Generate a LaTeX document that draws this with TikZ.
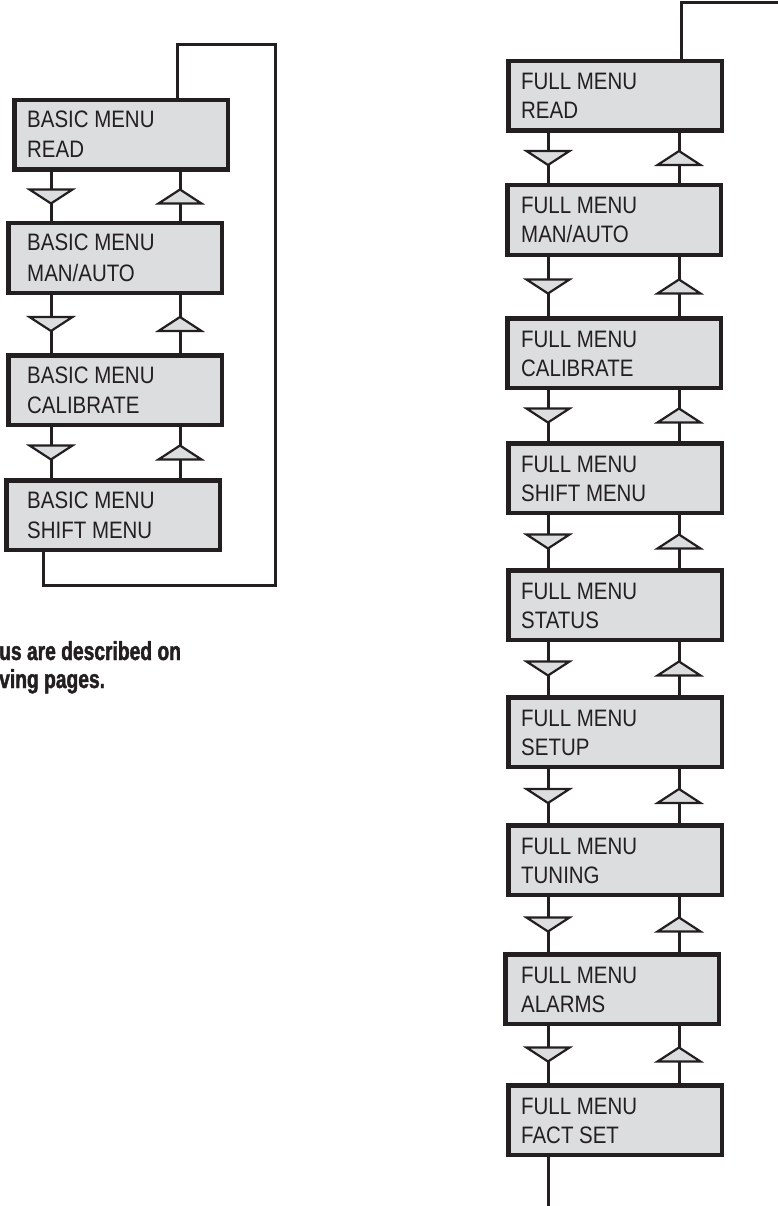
\documentclass[tikz,border=0pt]{standalone}
\usepackage{fontspec}
\setmainfont{Liberation Sans}
\newfontfamily\menufont{Liberation Sans}[FakeStretch=0.86]
\newfontfamily\notefont{Liberation Sans}[FakeStretch=0.74,FakeBold=1.6]
\usepackage{tikz}
\usetikzlibrary{positioning}
\usetikzlibrary{calc}
\definecolor{ink}{RGB}{35,31,32}
\definecolor{panel}{RGB}{220,221,223}

\begin{document}
\begin{tikzpicture}[x=1pt, y=-1pt,
menu/.style={rectangle,draw=ink,fill=panel,line width=4.5pt,minimum width=213.5pt,minimum height=69.5pt,anchor=north west,inner sep=0pt,outer sep=0pt},
txt/.style={anchor=base west,inner sep=0pt,text=ink,font=\menufont\fontsize{23.8pt}{29.5pt}\selectfont},
note/.style={anchor=base west,inner sep=0pt,text=ink,font=\notefont\bfseries\fontsize{26pt}{28pt}\selectfont},
link/.style={draw=ink,line width=3pt},
tri/.style={draw=ink,fill=panel,line width=2.2pt}]
\useasboundingbox (0,0) rectangle (778,1206);

% basic menu
\foreach \i/\xl/\ytop/\lbl in {1/12/98/READ, 2/6/221/{MAN/AUTO}, 3/6/353/CALIBRATE, 4/4/478/SHIFT MENU}{
  \node [menu](l\i) at ({\xl+2.25},{\ytop+2.25}) {};
  \node [txt](la\i) at (27,{\ytop+30}) {BASIC MENU};
  \node [txt](lb\i) at (27,{\ytop+60}) {\lbl};
}

% full menu
\foreach \i/\xl/\ytop/\lbl in {1/506/59/READ, 2/505/183/{MAN/AUTO}, 3/505/316/CALIBRATE, 4/506/441/SHIFT MENU,
  5/506/568/STATUS, 6/506/695/SETUP, 7/506/823/TUNING, 8/503/952/ALARMS, 9/506/1083/FACT SET}{
  \node [menu](r\i) at ({\xl+2.25},{\ytop+2.25}) {};
  \node [txt](ra\i) at (521,{\ytop+31}) {FULL MENU};
  \node [txt](rb\i) at (521,{\ytop+60}) {\lbl};
}

\coordinate (ldn) at (51,0);
\coordinate (lup) at (180,0);
\coordinate (rdn) at (548,0);
\coordinate (rup) at (679,0);

% up and down links
\foreach \i/\j in {1/2,2/3,3/4}{
  \draw [link] (ldn |- l\i.south) -- (ldn |- l\j.north);
  \draw [link] (lup |- l\i.south) -- (lup |- l\j.north);
  \coordinate (m) at ($(ldn |- l\i.south)!0.5!(ldn |- l\j.north)$);
  \draw [tri] (m) +(-21.5,-7) -- +(21.5,-7) -- +(0,7) -- cycle;
  \coordinate (m) at ($(lup |- l\i.south)!0.5!(lup |- l\j.north)$);
  \draw [tri] (m) +(-21.5,7) -- +(21.5,7) -- +(0,-7) -- cycle;
}
\foreach \i/\j in {1/2,2/3,3/4,4/5,5/6,6/7,7/8,8/9}{
  \draw [link] (rdn |- r\i.south) -- (rdn |- r\j.north);
  \draw [link] (rup |- r\i.south) -- (rup |- r\j.north);
  \coordinate (m) at ($(rdn |- r\i.south)!0.5!(rdn |- r\j.north)$);
  \draw [tri] (m) +(-21.5,-7) -- +(21.5,-7) -- +(0,7) -- cycle;
  \coordinate (m) at ($(rup |- r\i.south)!0.5!(rup |- r\j.north)$);
  \draw [tri] (m) +(-21.5,7) -- +(21.5,7) -- +(0,-7) -- cycle;
}

% wrap around
\coordinate (lback) at (177,45);
\coordinate (lside) at (275,585);
\coordinate (lret) at (43,585);
\draw [link] (lback |- l1.north) -- (lback) -| (lside) -- (lret) -- (lret |- l4.south);

\coordinate (rback) at (681,3);
\coordinate (rout) at (778,3);
\coordinate (rend) at (548,1206);
\draw [link] (rback |- r1.north) -- (rback) -- (rout);
\draw [link] (rend |- r9.south) -- (rend);

% note
\node [note](n1) at (-1,660) {us are described on};
\node [note](n2) at (-1,688) {ving pages.};
\end{tikzpicture}
\end{document}
